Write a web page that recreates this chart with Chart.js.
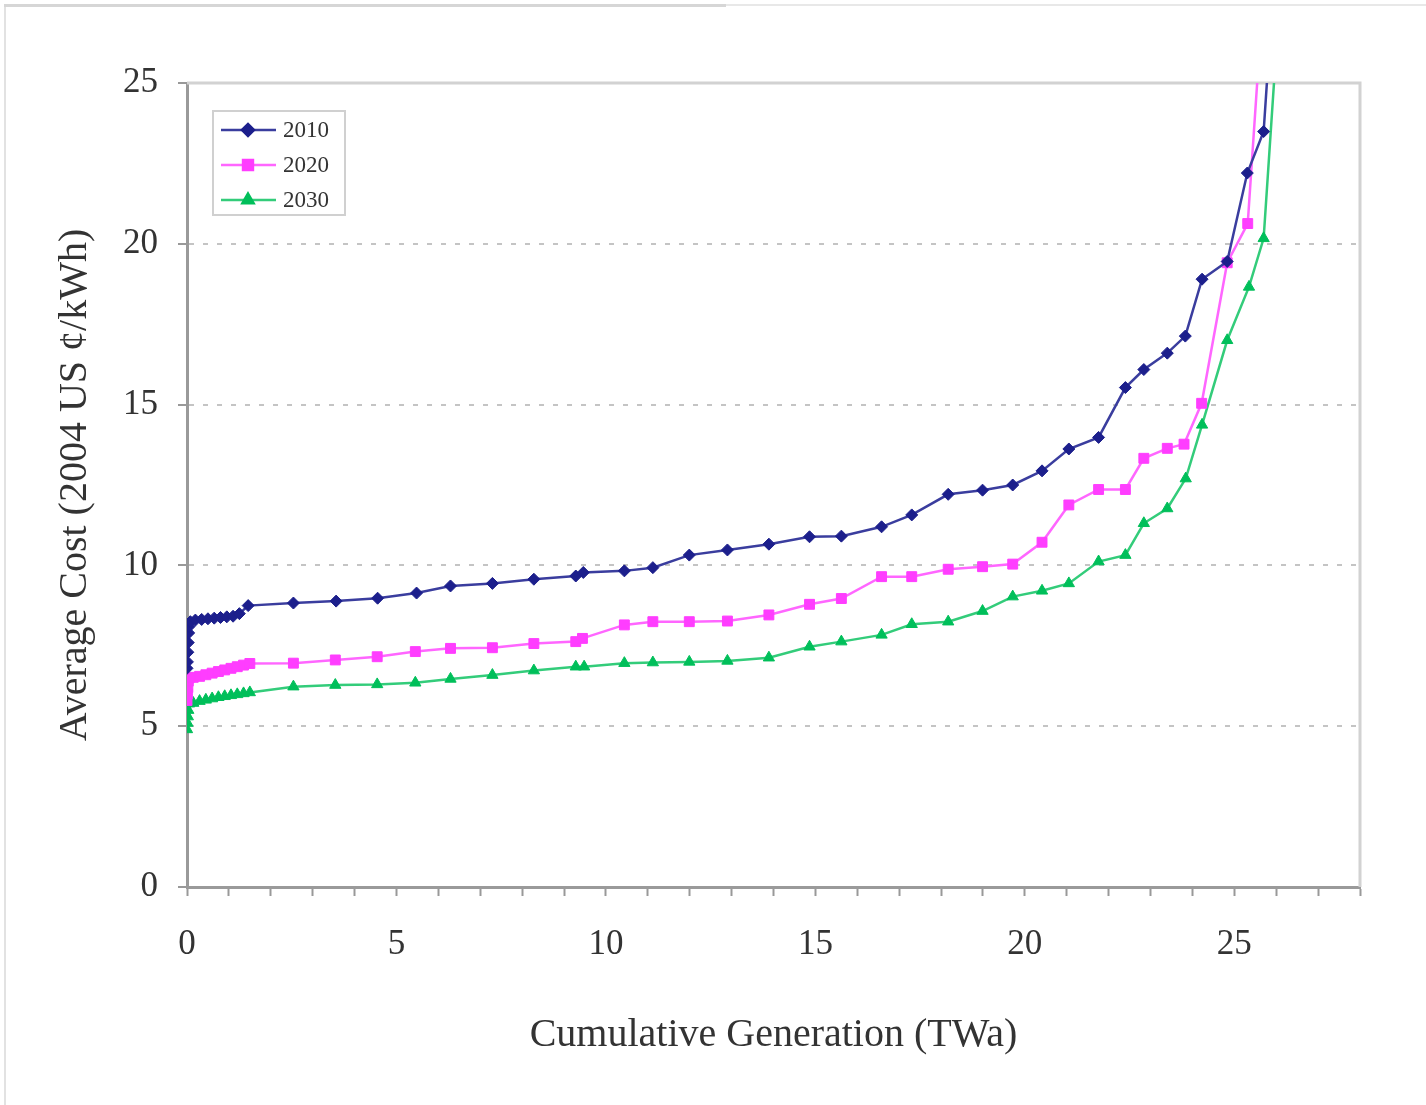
<!DOCTYPE html>
<html>
<head>
<meta charset="utf-8">
<title>Average Cost vs Cumulative Generation</title>
<script src="https://cdn.jsdelivr.net/npm/chart.js@4.4.0/dist/chart.umd.min.js"></script>
<style>
  html, body { margin: 0; padding: 0; background: #fff; }
  #wrap { position: relative; width: 1426px; height: 1105px; overflow: hidden; }
  #frame { position: absolute; left: 4px; top: 4px; width: 1430px; height: 1110px;
           border-left: 2px solid #e2e2e2; border-top: 2px solid #e8e8e8; }
  #frame-dark { position: absolute; left: 4px; top: 4px; width: 722px; height: 0;
           border-top: 3px solid #d6d6d6; }
  canvas { position: absolute; left: 0; top: 0; }
</style>
</head>
<body>
<div id="wrap">
  <div id="frame"></div>
  <div id="frame-dark"></div>
  <canvas id="chart" width="1426" height="1105"></canvas>
</div>
<script>
// cumulative generation (TWa) and average cost (2004 US c/kWh) per scenario year
const labels = ['2010', '2020', '2030'];

const x2010 = [0, 0.01, 0.02, 0.03, 0.04, 0.05, 0.08, 0.2, 0.35, 0.5, 0.65, 0.8, 0.95, 1.1, 1.25, 1.46,
  2.54, 3.56, 4.55, 5.48, 6.29, 7.29, 8.28, 9.28, 9.46, 10.44, 11.12, 11.99, 12.9, 13.89, 14.86, 15.62,
  16.58, 17.3, 18.17, 18.99, 19.71, 20.41, 21.05, 21.76, 22.4, 22.84, 23.4, 23.83, 24.23, 24.83, 25.31, 25.7, 25.9];
const y2010 = [6.8, 7.0, 7.3, 7.6, 7.9, 8.1, 8.25, 8.3, 8.32, 8.34, 8.36, 8.38, 8.4, 8.42, 8.5, 8.75,
  8.83, 8.89, 8.98, 9.14, 9.36, 9.44, 9.57, 9.67, 9.78, 9.83, 9.93, 10.32, 10.48, 10.66, 10.89, 10.91,
  11.2, 11.57, 12.21, 12.34, 12.5, 12.94, 13.62, 13.98, 15.53, 16.09, 16.6, 17.13, 18.9, 19.45, 22.2, 23.49, 27.4];

const x2020 = [0, 0.01, 0.02, 0.03, 0.05, 0.15, 0.3, 0.45, 0.6, 0.75, 0.9, 1.05, 1.2, 1.35, 1.5,
  2.54, 3.54, 4.54, 5.45, 6.29, 7.29, 8.28, 9.28, 9.44, 10.44, 11.12, 11.99, 12.9, 13.89, 14.86, 15.62,
  16.58, 17.3, 18.17, 18.99, 19.71, 20.41, 21.05, 21.76, 22.4, 22.84, 23.4, 23.8, 24.22, 24.83, 25.32, 25.7];
const y2020 = [5.8, 6.0, 6.2, 6.4, 6.5, 6.52, 6.55, 6.6, 6.65, 6.7, 6.75, 6.8, 6.85, 6.9, 6.95,
  6.96, 7.06, 7.16, 7.32, 7.42, 7.44, 7.57, 7.63, 7.73, 8.15, 8.25, 8.25, 8.27, 8.46, 8.79, 8.97,
  9.65, 9.65, 9.88, 9.96, 10.04, 10.72, 11.88, 12.36, 12.36, 13.33, 13.64, 13.77, 15.04, 19.41, 20.63, 28];

const x2030 = [0, 0.01, 0.02, 0.03, 0.05, 0.15, 0.3, 0.45, 0.6, 0.75, 0.9, 1.05, 1.2, 1.35, 1.5,
  2.54, 3.54, 4.54, 5.45, 6.29, 7.29, 8.28, 9.28, 9.48, 10.44, 11.12, 11.99, 12.9, 13.89, 14.86, 15.62,
  16.58, 17.3, 18.17, 18.99, 19.71, 20.41, 21.05, 21.76, 22.4, 22.84, 23.4, 23.84, 24.23, 24.83, 25.35, 25.7, 26.1];
const y2030 = [4.9, 5.1, 5.3, 5.5, 5.7, 5.72, 5.78, 5.82, 5.86, 5.9, 5.93, 5.96, 5.99, 6.02, 6.05,
  6.23, 6.28, 6.3, 6.35, 6.47, 6.59, 6.73, 6.85, 6.85, 6.96, 6.98, 7.0, 7.03, 7.13, 7.47, 7.63,
  7.84, 8.17, 8.25, 8.58, 9.03, 9.21, 9.44, 10.12, 10.32, 11.31, 11.77, 12.7, 14.37, 17.0, 18.66, 20.17, 28];

const yTicks = [0, 5, 10, 15, 20, 25];
const xLabelEvery = 5;

const FONT = '"Liberation Serif", "Times New Roman", serif';
const colors = ['#1c1f8c', '#ff3dff', '#00bf5a'];
const lineColors = ['#3a3d9e', '#ff66ff', '#33cc7a'];
const shapes = ['rectRot', 'rect', 'triangle'];
const radii = [6, 7, 6.5];

const pts = (xs, ys) => xs.map((x, i) => ({ x, y: ys[i] }));
const series = [pts(x2010, y2010), pts(x2020, y2020), pts(x2030, y2030)];

// legend box drawn inside the plot, top-left; plus the light right/top frame
const boxLegend = {
  id: 'boxLegend',
  beforeDatasetsDraw(chart) {
    const ctx = chart.ctx, a = chart.chartArea;
    ctx.save();
    ctx.strokeStyle = '#d2d2d2';
    ctx.lineWidth = 3;
    ctx.beginPath();
    ctx.moveTo(a.left, a.top); ctx.lineTo(a.right, a.top); ctx.lineTo(a.right, a.bottom);
    ctx.stroke();
    ctx.restore();
  },
  afterDatasetsDraw(chart) {
    const ctx = chart.ctx;
    ctx.save();
    ctx.fillStyle = '#fff';
    ctx.strokeStyle = '#d0d0d0';
    ctx.lineWidth = 2;
    ctx.fillRect(213, 111, 132, 104);
    ctx.strokeRect(213, 111, 132, 104);
    chart.data.datasets.forEach((ds, i) => {
      const y = 130 + i * 35;
      ctx.strokeStyle = ds.borderColor;
      ctx.lineWidth = 2.5;
      ctx.beginPath(); ctx.moveTo(221, y); ctx.lineTo(276, y); ctx.stroke();
      ctx.fillStyle = ds.pointBackgroundColor;
      ctx.strokeStyle = ds.pointBorderColor;
      Chart.helpers.drawPoint(ctx, { pointStyle: ds.pointStyle, radius: ds.pointRadius, borderWidth: 1 }, 248, y);
      ctx.fillStyle = '#333';
      ctx.font = '23px ' + FONT;
      ctx.textBaseline = 'middle';
      ctx.fillText(ds.label, 283, y + 1);
    });
    ctx.restore();
  }
};

new Chart(document.getElementById('chart'), {
  type: 'line',
  data: {
    datasets: series.map((d, i) => ({
      label: labels[i],
      data: d,
      borderColor: lineColors[i],
      borderWidth: 2.5,
      pointStyle: shapes[i],
      pointRadius: radii[i],
      pointBackgroundColor: colors[i],
      pointBorderColor: colors[i],
      pointBorderWidth: 1,
      tension: 0
    }))
  },
  options: {
    responsive: false,
    animation: false,
    layout: { padding: { top: 83, right: 66, left: 0, bottom: 0 } },
    plugins: { legend: { display: false }, tooltip: { enabled: false } },
    scales: {
      x: {
        type: 'linear', min: 0, max: 28,
        afterFit: s => { s.height = 218; },
        afterBuildTicks: s => { s.ticks = Array.from({ length: 29 }, (_, i) => ({ value: i })); },
        ticks: {
          autoSkip: false, maxRotation: 0, padding: 28, color: '#333',
          font: { family: FONT, size: 35 },
          callback: v => (v % xLabelEvery === 0 ? String(v) : '')
        },
        grid: { drawOnChartArea: false, drawTicks: true, tickLength: 9, tickColor: '#999', tickWidth: 2 },
        border: { color: '#9a9a9a', width: 3 },
        title: {
          display: true, text: 'Cumulative Generation (TWa)', color: '#333',
          font: { family: FONT, size: 40 }, padding: { top: 0, bottom: 46 }
        }
      },
      y: {
        min: 0, max: 25,
        afterFit: s => { s.width = 187; },
        afterBuildTicks: s => { s.ticks = yTicks.map(v => ({ value: v })); },
        ticks: { padding: 20, color: '#333', font: { family: FONT, size: 35 } },
        grid: {
          color: '#c4c4c4', lineWidth: 2,
          tickLength: 9, tickColor: '#999', tickWidth: 2, tickBorderDash: []
        },
        border: { color: '#9a9a9a', width: 3, dash: [5, 9] },
        title: {
          display: true, text: 'Average Cost (2004 US \u00a2/kWh)', color: '#333',
          font: { family: FONT, size: 40 }, padding: { top: 51, bottom: 0 }
        }
      }
    }
  },
  plugins: [boxLegend]
});
</script>
</body>
</html>
